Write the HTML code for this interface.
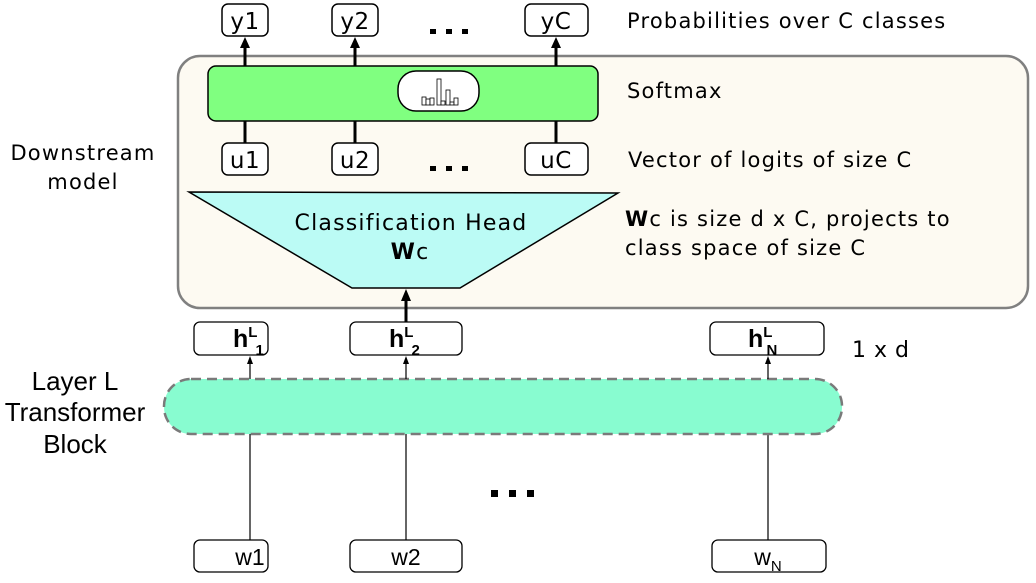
<!DOCTYPE html>
<html><head><meta charset="utf-8"><style>
html,body{margin:0;padding:0;background:#fff;}
svg{display:block;}
.d{font-family:"DejaVu Sans",sans-serif;letter-spacing:1.2px;}
.b{font-family:"DejaVu Sans",sans-serif;letter-spacing:0.5px;}
.l{font-family:"Liberation Sans",sans-serif;}
</style></head><body>
<svg width="1036" height="583" viewBox="0 0 1036 583" xmlns="http://www.w3.org/2000/svg">
<rect x="178" y="56" width="850" height="252" rx="22" fill="#fdfaf2" stroke="#808080" stroke-width="2.5"/>
<g stroke="#000" stroke-width="3">
<line x1="245" y1="66" x2="245" y2="46"/>
<line x1="355" y1="66" x2="355" y2="46"/>
<line x1="556" y1="66" x2="556" y2="46"/>
<line x1="245" y1="121" x2="245" y2="143"/>
<line x1="355" y1="121" x2="355" y2="143"/>
<line x1="556" y1="121" x2="556" y2="143"/>
<line x1="406" y1="322" x2="406" y2="300"/>
</g>
<g fill="#000">
<polygon points="245,37 240,48 250,48"/>
<polygon points="355,37 350,48 360,48"/>
<polygon points="556,37 551,48 561,48"/>
<polygon points="406,289 401,301 411,301"/>
</g>
<g fill="#fff" stroke="#000" stroke-width="1.5">
<rect x="222" y="4" width="46" height="32" rx="6"/>
<rect x="332" y="4" width="46" height="32" rx="6"/>
<rect x="525" y="4" width="63" height="32" rx="6"/>
<rect x="222" y="143" width="46" height="32" rx="6"/>
<rect x="332" y="143" width="46" height="32" rx="6"/>
<rect x="525" y="143" width="63" height="32" rx="6"/>
</g>
<g class="b" font-size="23" text-anchor="middle" fill="#000">
<text x="245" y="29">y1</text><text x="355" y="29">y2</text><text x="556" y="29">yC</text>
<text x="245" y="168">u1</text><text x="355" y="168">u2</text><text x="556" y="168">uC</text>
</g>
<g fill="#000">
<rect x="430" y="29" width="6" height="5"/><rect x="446" y="29" width="6" height="5"/><rect x="462" y="29" width="6" height="5"/>
<rect x="430" y="166" width="6" height="5"/><rect x="446" y="166" width="6" height="5"/><rect x="462" y="166" width="6" height="5"/>
<rect x="491" y="490" width="7" height="7"/><rect x="509" y="490" width="7" height="7"/><rect x="527" y="490" width="7" height="7"/>
</g>
<rect x="208" y="66" width="390" height="55" rx="8" fill="#80ff80" stroke="#000" stroke-width="1.5"/>
<rect x="398" y="71" width="81" height="40" rx="18" fill="#fff" stroke="#000" stroke-width="1.5"/>
<g fill="#fff" stroke="#000" stroke-width="0.8">
<rect x="422" y="97" width="4" height="8"/><rect x="426" y="99" width="4" height="6"/><rect x="430" y="98" width="4" height="7"/>
<rect x="437" y="79" width="4" height="26"/><rect x="441" y="101" width="4" height="4"/><rect x="446" y="90" width="4" height="15"/>
<rect x="450" y="102" width="4" height="3"/><rect x="454" y="98" width="4" height="7"/>
</g>
<polygon points="189,192 618,193 460,288 352,288" fill="#bbfbf5" stroke="#000" stroke-width="1.5"/>
<text class="d" x="411" y="230" font-size="22" text-anchor="middle">Classification Head</text>
<text class="d" x="410" y="259" font-size="22" text-anchor="middle"><tspan font-weight="bold">W</tspan>c</text>
<g class="d" font-size="21" fill="#000">
<text x="627" y="28">Probabilities over C classes</text>
<text x="627" y="98">Softmax</text>
<text x="628" y="167">Vector of logits of size C</text>
<text x="625" y="226"><tspan font-weight="bold">W</tspan>c is size d x C, projects to</text>
<text x="625" y="255">class space of size C</text>
<text x="852" y="357" font-size="22" letter-spacing="0.5">1 x d</text>
<text x="83" y="160" text-anchor="middle">Downstream</text>
<text x="83" y="189" text-anchor="middle">model</text>
</g>
<g class="l" font-size="26" text-anchor="middle" fill="#000">
<text x="75" y="390">Layer L</text>
<text x="75" y="421">Transformer</text>
<text x="75" y="453">Block</text>
</g>
<g stroke="#000" stroke-width="1.2">
<line x1="250" y1="540" x2="250" y2="430"/>
<line x1="406" y1="540" x2="406" y2="430"/>
<line x1="768" y1="540" x2="768" y2="430"/>
</g>
<rect x="164" y="379" width="678" height="55" rx="27" fill="#88fcd0" stroke="#7a7a7a" stroke-width="2.5" stroke-dasharray="10,6"/>
<g stroke="#000" stroke-width="1.2">
<line x1="250" y1="379" x2="250" y2="362"/>
<line x1="406" y1="379" x2="406" y2="362"/>
<line x1="768" y1="379" x2="768" y2="362"/>
</g>
<g fill="#000">
<polygon points="250,356 247,364 253,364"/>
<polygon points="406,356 403,364 409,364"/>
<polygon points="768,356 765,364 771,364"/>
</g>
<g fill="#fff" stroke="#000" stroke-width="1.3">
<rect x="194" y="322" width="74" height="33" rx="6"/>
<rect x="350" y="322" width="112" height="33" rx="6"/>
<rect x="710" y="322" width="114" height="33" rx="6"/>
<rect x="194" y="540" width="74" height="32" rx="6"/>
<rect x="350" y="540" width="112" height="32" rx="6"/>
<rect x="712" y="540" width="114" height="32" rx="6"/>
</g>
<g class="l" fill="#000" font-weight="bold">
<text x="233" y="347" font-size="25">h<tspan font-size="15" dy="-10">L</tspan><tspan font-size="15" dx="-2" dy="18">1</tspan></text>
<text x="389" y="347" font-size="25">h<tspan font-size="15" dy="-10">L</tspan><tspan font-size="15" dx="-2" dy="18">2</tspan></text>
<text x="748" y="347" font-size="25">h<tspan font-size="15" dy="-10">L</tspan><tspan font-size="15" dx="-6" dy="18">N</tspan></text>
</g>
<g class="l" fill="#000" font-size="23" text-anchor="middle">
<text x="250" y="565">w1</text>
<text x="406" y="565">w2</text>
<text x="768" y="565">w<tspan font-size="15" dy="6">N</tspan></text>
</g>
</svg>
</body></html>
